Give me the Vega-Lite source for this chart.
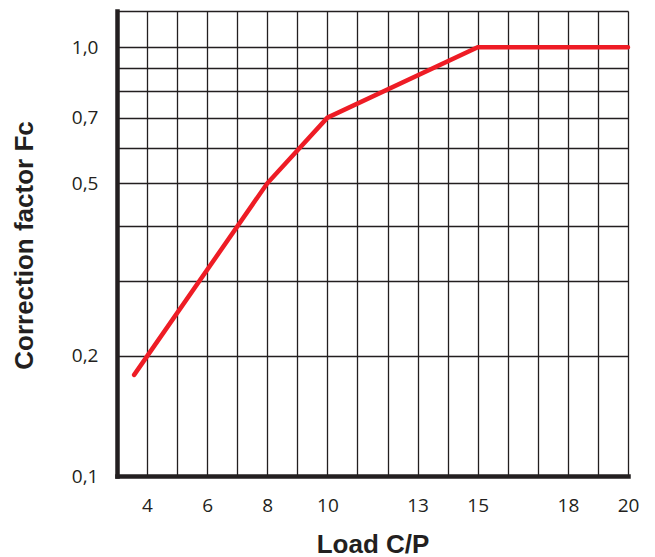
{
  "$schema": "https://vega.github.io/schema/vega-lite/v6.json",
  "autosize": "none",
  "width": 511,
  "height": 465,
  "padding": {"left": 117, "top": 11, "right": 27, "bottom": 81},
  "background": "white",
  "config": {
    "view": {"stroke": null},
    "axis": {
      "labelFont": "Open Sans",
      "labelFontSize": 19,
      "labelColor": "#231f20",
      "titleFont": "Liberation Sans",
      "titleFontSize": 26,
      "titleFontWeight": "bold",
      "titleColor": "#231f20",
      "domainColor": "#231f20",
      "domainWidth": 4.5,
      "domainCap": "square",
      "gridColor": "#231f20",
      "gridWidth": 1.3,
      "gridOpacity": 1,
      "ticks": false,
      "labelOverlap": false,
      "labelBound": false,
      "labelFlush": false
    }
  },
  "data": {
    "values": [
      {"load": 3.57, "fc": 0.18},
      {"load": 8, "fc": 0.5},
      {"load": 10, "fc": 0.7},
      {"load": 15, "fc": 1.0},
      {"load": 20, "fc": 1.0}
    ]
  },
  "mark": {"type": "line", "color": "#ee1c25", "strokeWidth": 4.5, "strokeCap": "round", "strokeJoin": "miter"},
  "encoding": {
    "x": {
      "field": "load",
      "type": "quantitative",
      "scale": {"domain": [3, 20], "nice": false, "zero": false},
      "axis": {
        "title": "Load C/P",
        "values": [4, 5, 6, 7, 8, 9, 10, 11, 12, 13, 14, 15, 16, 17, 18, 19, 20],
        "labelExpr": "indexof([4, 6, 8, 10, 13, 15, 18, 20], datum.value) >= 0 ? datum.label : ''",
        "labelPadding": 20,
        "titleBaseline": "alphabetic",
        "titleY": 76
      }
    },
    "y": {
      "field": "fc",
      "type": "quantitative",
      "scale": {"type": "symlog", "constant": 0.024, "domain": [0.1, 1.2], "nice": false, "zero": false},
      "axis": {
        "title": "Correction factor Fc",
        "values": [0.1, 0.2, 0.3, 0.4, 0.5, 0.6, 0.7, 0.8, 0.9, 1.0, 1.2],
        "labelExpr": "indexof([0.1, 0.2, 0.5, 0.7, 1], datum.value) >= 0 ? replace(format(datum.value, '.1f'), '.', ',') : ''",
        "labelPadding": 19,
        "titleX": -80,
        "titleY": 234
      }
    }
  }
}
